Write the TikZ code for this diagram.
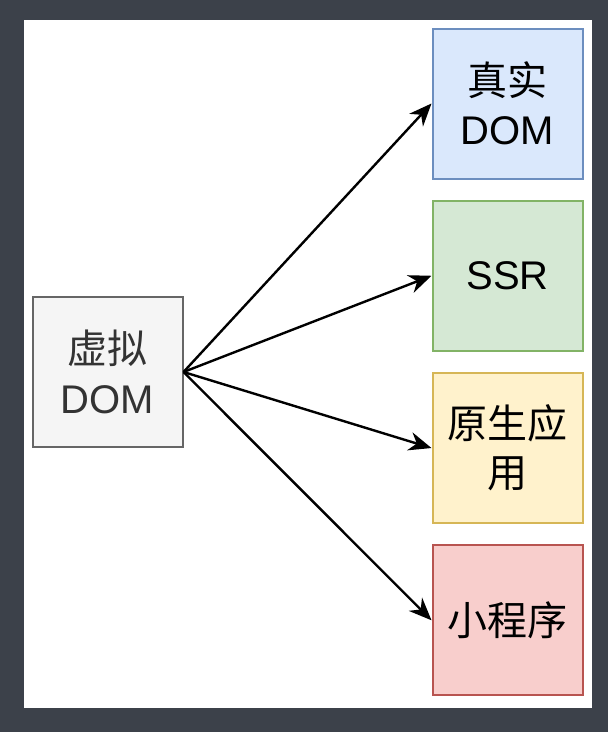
\documentclass[tikz,border=0pt]{standalone}
\usepackage{fontspec}
\setmainfont{Liberation Sans}
\newfontfamily\cjk{Noto Sans CJK SC}
\usetikzlibrary{arrows.meta,positioning}
\definecolor{frame}{HTML}{3C414A}
\definecolor{greyfill}{HTML}{F5F5F5}
\definecolor{greyline}{HTML}{666666}
\definecolor{bluefill}{HTML}{DAE8FC}
\definecolor{blueline}{HTML}{6C8EBF}
\definecolor{greenfill}{HTML}{D5E8D4}
\definecolor{greenline}{HTML}{82B366}
\definecolor{yellowfill}{HTML}{FFF2CC}
\definecolor{yellowline}{HTML}{D6B656}
\definecolor{redfill}{HTML}{F8CECC}
\definecolor{redline}{HTML}{B85450}

\begin{document}
\begin{tikzpicture}[
  x=0.75pt, y=-0.75pt,
  box/.style={rectangle, draw, line width=1.5pt, minimum width=112.5pt, minimum height=112.5pt, font=\fontsize{30}{37}\selectfont, align=center, inner sep=2pt},
  arrow/.style={-{Stealth[length=17pt, width=14pt]}, line width=1.8pt, color=black},
]
  % page and white sheet
  \fill[frame] (0,0) rectangle (608,732);
  \fill[white] (24,20) rectangle (592,708);

  \node[box, fill=greyfill, draw=greyline, text=black!80] (vdom) at (107.5,372) {{\cjk 虚拟}\\DOM};

  \node[box, fill=bluefill, draw=blueline] (real) at (507.5,103.5) {{\cjk 真实}\\DOM};
  \node[box, fill=greenfill, draw=greenline, below=15.2pt of real] (ssr) {SSR};
  \node[box, fill=yellowfill, draw=yellowline, below=15.2pt of ssr] (native) {{\cjk 原生应}\\{\cjk 用}};
  \node[box, fill=redfill, draw=redline, below=15.2pt of native] (mini) {\cjk 小程序};

  \draw[arrow] (vdom.east) -- (real.west);
  \draw[arrow] (vdom.east) -- (ssr.west);
  \draw[arrow] (vdom.east) -- (native.west);
  \draw[arrow] (vdom.east) -- (mini.west);
\end{tikzpicture}
\end{document}
